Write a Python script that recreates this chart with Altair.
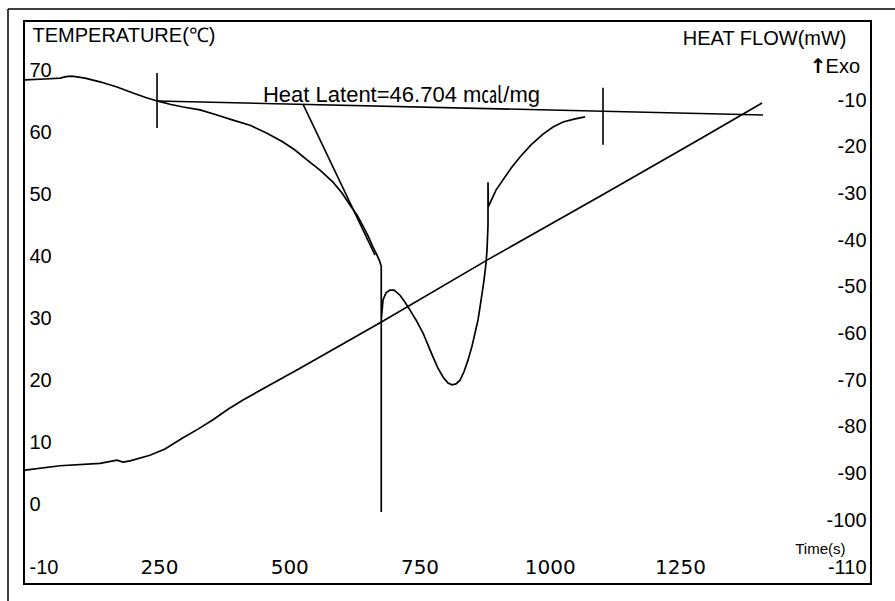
import altair as alt
import pandas as pd

# ---- tick labels ----
time_ticks = [250, 500, 750, 1000, 1250]
temp_ticks = [70, 60, 50, 40, 30, 20, 10, 0, -10]
hf_ticks = [-10, -20, -30, -40, -50, -60, -70, -80, -90, -100, -110]

# ---- temperature trace (time s, degC) ----
temp_time = [-7.2, 60.0, 136.8, 169.4, 180.9, 194.4, 232.7, 261.5, 296.1, 324.9,
             353.7, 382.5, 411.3, 520.7, 676.1, 879.6, 1096.5, 1288.4, 1407.5]
temp_c = [5.6, 6.3, 6.7, 7.2, 6.9, 7.1, 8.0, 9.0, 10.8, 12.2,
          13.7, 15.4, 16.9, 22.0, 29.4, 39.4, 49.7, 58.9, 64.7]

# ---- heat flow trace (time s, mW) ----
hf_time = [-7.2, 31.2, 60.0, 71.5, 83.0, 108.0, 136.8, 169.4, 200.1, 223.1,
           246.2, 271.1, 296.1, 328.7, 361.3, 392.1, 424.7, 457.3, 488.0, 511.0,
           534.1, 559.0, 584.0, 601.3, 616.6, 630.0, 641.6, 651.2, 660.8, 668.5,
           673.5, 676.6, 676.6, 676.6, 680.0, 685.7, 693.4, 701.1, 712.6, 722.2, 731.8,
           743.3, 756.8, 766.4, 775.9, 785.5, 795.1, 804.7, 812.4, 820.1, 827.8,
           835.4, 843.1, 850.8, 856.6, 862.3, 866.2, 870.0, 873.9, 877.7, 879.6,
           881.5, 881.5, 882.0, 885.3, 896.8, 910.3, 925.6, 942.9, 964.0, 987.1,
           1006.3, 1025.5, 1046.6, 1067.7]
heat_flow = [-5.7, -5.5, -5.3, -5.0, -4.9, -5.3, -6.1, -7.2, -8.5, -9.4,
             -10.2, -10.9, -11.5, -12.1, -13.2, -14.3, -15.4, -17.1, -19.0, -20.7,
             -22.8, -25.0, -27.6, -29.9, -32.5, -34.6, -37.0, -39.1, -41.5, -43.2,
             -44.5, -45.6, -98.2, -57.1, -52.8, -51.3, -50.7, -50.7, -51.8, -53.3, -55.0,
             -57.1, -59.9, -62.5, -65.0, -67.4, -69.3, -70.6, -71.0, -70.8, -70.0,
             -68.2, -65.7, -62.7, -59.9, -57.1, -54.3, -51.5, -48.5, -44.9, -42.1,
             -36.8, -27.6, -32.9, -32.1, -29.3, -27.1, -24.6, -22.2, -19.6, -17.3,
             -15.8, -14.7, -14.1, -13.6]

# ---- construction segments: baseline, leader, two limit markers ----
seg_t = [246.2, 526.4, 246.2, 1102.2]
seg_h = [-10.2, -10.9, -4.2, -7.4]
seg_t2 = [1409.4, 664.6, 246.2, 1102.2]
seg_h2 = [-13.2, -43.2, -16.0, -19.6]

# ---- annotations ----
note_t = [449.6]
note_h = [-10.4]
note_text = ["Heat Latent=46.704 m\u3388/mg"]

temp_df = pd.DataFrame({"t": temp_time, "T": temp_c, "i": range(len(temp_time))})
hf_df = pd.DataFrame({"t": hf_time, "h": heat_flow, "i": range(len(hf_time))})
seg_df = pd.DataFrame({"t": seg_t, "h": seg_h, "t2": seg_t2, "h2": seg_h2})
note_df = pd.DataFrame({"t": note_t, "h": note_h, "label": note_text})
exo_df = pd.DataFrame({"t": [1595.5], "h": [-2.9], "label": ["Exo"]})
arrow_df = pd.DataFrame({"t": [1531.0], "h": [-2.9], "label": ["\u2191"]})

W, H = 847, 563
LABEL_FONT = "Liberation Sans"

x_axis = alt.Axis(values=time_ticks, format="d", ticks=False, domain=False, grid=False,
                  labelFont="DejaVu Sans", labelFontSize=20, labelColor="black",
                  labelBaseline="middle", labelPadding=-17, labelFlush=False,
                  labelOverlap=False,
                  title="Time(s)", titleFont=LABEL_FONT, titleFontSize=15,
                  titleFontWeight="normal", titleColor="black",
                  titleAlign="right", titleBaseline="middle",
                  titleX=W - 26, titleY=-36)
x_enc = alt.X("t:Q", scale=alt.Scale(domain=[-9.1, 1616.6], nice=False, zero=False),
              axis=x_axis)
x2_enc = alt.X2("t2:Q")

left_axis = alt.Axis(orient="left", values=temp_ticks, ticks=False, domain=False,
                     grid=False, labelFont=LABEL_FONT, labelFontSize=20,
                     labelExpr="datum.value + ''",
                     labelColor="black", labelAlign="left", labelBaseline="middle",
                     labelPadding=-5, labelOverlap=False,
                     title="TEMPERATURE(\u2103)", titleFont=LABEL_FONT,
                     titleFontSize=20, titleFontWeight="normal", titleColor="black",
                     titleAngle=0, titleAlign="left", titleBaseline="middle",
                     titleX=8, titleY=14)
right_axis = alt.Axis(orient="right", values=hf_ticks, ticks=False, domain=False,
                      grid=False, labelFont=LABEL_FONT, labelFontSize=20,
                      labelExpr="datum.value + ''",
                      labelColor="black", labelAlign="right", labelBaseline="middle",
                      labelPadding=-5, labelOverlap=False,
                      title="HEAT FLOW(mW)", titleFont=LABEL_FONT,
                      titleFontSize=20, titleFontWeight="normal", titleColor="black",
                      titleAngle=0, titleAlign="right", titleBaseline="middle",
                      titleX=-25, titleY=17)

temp_scale = alt.Scale(domain=[-12.73, 77.89], nice=False, zero=False)
hf_scale = alt.Scale(domain=[-113.64, 6.92], nice=False, zero=False)
y_hf = alt.Y("h:Q", scale=hf_scale, axis=right_axis)

temp_line = alt.Chart(temp_df).mark_line(color="black", strokeWidth=1.7).encode(
    x=x_enc,
    y=alt.Y("T:Q", scale=temp_scale, axis=left_axis),
    order="i:Q",
)

# scan-edge frame lines around the sheet
deco_left = alt.Chart(pd.DataFrame({"k": [0]})).mark_rule(color="black", strokeWidth=1.5).encode(
    x=alt.value(-16), y=alt.value(-12), y2=alt.value(H + 40),
)
deco_top = alt.Chart(pd.DataFrame({"k": [0]})).mark_rule(color="black", strokeWidth=1.5).encode(
    x=alt.value(-16), x2=alt.value(W + 30), y=alt.value(-12),
)

temp_layer = alt.layer(temp_line, deco_left, deco_top)

hf_line = alt.Chart(hf_df).mark_line(color="black", strokeWidth=1.7, strokeJoin="miter").encode(
    x=x_enc, y=y_hf, order="i:Q",
)
segs = alt.Chart(seg_df).mark_rule(color="black", strokeWidth=1.6).encode(
    x=x_enc, y=y_hf, x2=x2_enc, y2=alt.Y2("h2:Q"),
)
note = alt.Chart(note_df).mark_text(
    align="left", baseline="alphabetic", font="Liberation Sans, Noto Sans CJK JP",
    fontSize=22, color="black",
).encode(x=x_enc, y=y_hf, text="label:N")
exo = alt.Chart(exo_df).mark_text(
    align="right", baseline="middle", font=LABEL_FONT, fontSize=20, color="black",
).encode(x=x_enc, y=y_hf, text="label:N")
arrow = alt.Chart(arrow_df).mark_text(
    align="right", baseline="middle", font="DejaVu Sans", fontSize=20,
    fontWeight="bold", color="black",
).encode(x=x_enc, y=y_hf, text="label:N")

hf_layer = alt.layer(hf_line, segs, note, exo, arrow)

chart = alt.layer(temp_layer, hf_layer).resolve_scale(y="independent").properties(
    width=W, height=H,
    padding={"left": 24, "top": 21, "right": 24, "bottom": 17},
    autosize=alt.AutoSizeParams(type="none"),
    background="white",
).configure_view(stroke="black", strokeWidth=2)

chart.save("out.html", embed_options={"renderer": "svg", "actions": False})
